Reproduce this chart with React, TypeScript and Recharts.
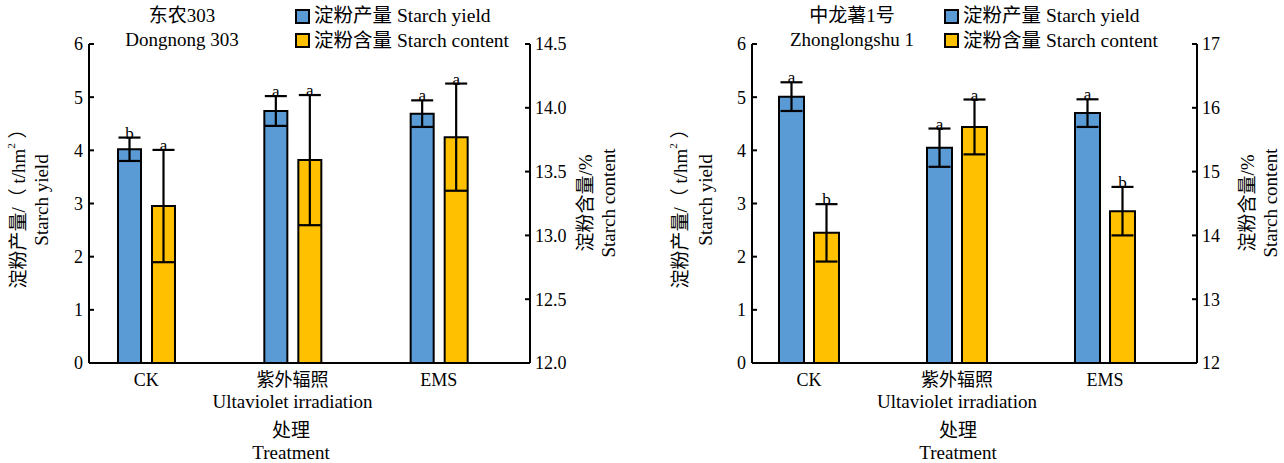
import { BarChart, Bar, XAxis, YAxis, ErrorBar, LabelList, Legend } from 'recharts'

const FONT = "'Liberation Serif', 'Noto Sans CJK SC', serif"

// categories
const categories = ['CK', '紫外辐照', 'EMS']
const categoriesEn = ['', 'Ultaviolet irradiation', '']

const seriesNames = ['淀粉产量 Starch yield', '淀粉含量 Starch content']
const seriesColors = ['#5B9BD5', '#FFC000']

// 东农303 Dongnong 303
const dnYield = [4.02, 4.74, 4.69]
const dnYieldErr = [0.22, 0.28, 0.25]
const dnYieldSig = ['b', 'a', 'a']
const dnContent = [13.23, 13.59, 13.77]
const dnContentErr = [0.44, 0.51, 0.42]
const dnContentSig = ['a', 'a', 'a']

// 中龙薯1号 Zhonglongshu 1
const zlYield = [5.01, 4.05, 4.7]
const zlYieldErr = [0.27, 0.36, 0.26]
const zlYieldSig = ['a', 'a', 'a']
const zlContent = [14.04, 15.7, 14.38]
const zlContentErr = [0.45, 0.43, 0.38]
const zlContentSig = ['b', 'a', 'b']

// tick labels
const yieldTicks = [0, 1, 2, 3, 4, 5, 6]
const dnContentTicks = [12, 12.5, 13, 13.5, 14, 14.5]
const zlContentTicks = [12, 13, 14, 15, 16, 17]

const buildRows = (y: number[], ye: number[], c: number[], ce: number[]) =>
    categories.map((name, i) => ({
        name,
        yield: y[i],
        yieldErr: ye[i],
        content: c[i],
        contentErr: ce[i],
    }))

const CategoryTick = ({ x, y, payload }: any) => {
    const en = categoriesEn[payload.index] || ''
    return (
        <g fontFamily={FONT} fill="#000">
            <text x={x} y={y + 23} textAnchor="middle" fontSize={18}>{payload.value}</text>
            {en && <text x={x} y={y + 45} textAnchor="middle" fontSize={19}>{en}</text>}
        </g>
    )
}

// significance letter sitting on the error bar cap
const sigLabel = (sig: string[], vals: number[], err: number[], base: number) => (props: any) => {
    const vb = props.viewBox || props
    const x = props.x ?? vb.x
    const y = props.y ?? vb.y
    const width = props.width ?? vb.width
    const height = props.height ?? vb.height
    const i = props.index
    const ppu = height / (vals[i] - base)
    const capY = y - err[i] * ppu
    return (
        <text x={x + width / 2} y={capY + 1} textAnchor="middle" fontSize={17} fontFamily={FONT} fill="#000">
            {sig[i]}
        </text>
    )
}

const LegendBox = () => (
    <div style={{ fontFamily: FONT, fontSize: 19.5, lineHeight: '24.5px', color: '#000' }}>
        {seriesNames.map((n, i) => (
            <div key={n} style={{ display: 'flex', alignItems: 'center', whiteSpace: 'nowrap' }}>
                <span style={{ display: 'inline-block', width: 11, height: 11, border: '2px solid #000', background: seriesColors[i], marginRight: 4 }} />
                {n}
            </div>
        ))}
    </div>
)

interface PanelProps {
    title: string
    titleEn: string
    titleX: number
    yieldV: number[]
    yieldErr: number[]
    yieldSig: string[]
    content: number[]
    contentErr: number[]
    contentSig: string[]
    contentTicks: number[]
    contentFmt: (v: number) => string
    leftW: number
    rightW: number
    pad: { left: number; right: number }
    barSize: number
    barGap: number
    legendLeft: number
    leftTitleX: number[]
    rightTitleX: number[]
    xTitleX: number
}

const Panel = (p: PanelProps) => {
    const data = buildRows(p.yieldV, p.yieldErr, p.content, p.contentErr)
    const base = p.contentTicks[0]
    return (
        <div style={{ position: 'relative', width: 642, height: 463 }}>
            <div style={{ position: 'absolute', left: p.titleX - 120, width: 240, top: 4, textAlign: 'center', fontFamily: FONT, fontSize: 19, lineHeight: '24px', color: '#000' }}>
                <div>{p.title}</div>
                <div>{p.titleEn}</div>
            </div>
            <BarChart width={642} height={463} data={data} margin={{ top: 44, right: 0, bottom: 0, left: 0 }} barGap={p.barGap}>
                <XAxis
                    dataKey="name"
                    height={100}
                    interval={0}
                    padding={p.pad}
                    axisLine={{ stroke: '#000', strokeWidth: 2 }}
                    tickLine={false}
                    tickSize={0}
                    tickMargin={0}
                    tick={<CategoryTick />}
                    label={() => (
                        <g fontFamily={FONT} fill="#000">
                            <text x={p.xTitleX} y={437} textAnchor="middle" fontSize={19}>处理</text>
                            <text x={p.xTitleX} y={459} textAnchor="middle" fontSize={19}>Treatment</text>
                        </g>
                    )}
                />
                <YAxis
                    yAxisId="l"
                    width={p.leftW}
                    domain={[0, 6]}
                    ticks={yieldTicks}
                    allowDataOverflow
                    axisLine={{ stroke: '#000', strokeWidth: 2 }}
                    tickLine={{ stroke: '#000', strokeWidth: 2 }}
                    tickSize={-5}
                    tickMargin={11}
                    tick={{ fill: '#000', fontSize: 18, fontFamily: FONT }}
                    label={() => (
                        <g fontFamily={FONT} fill="#000" fontSize={19}>
                            <text x={p.leftTitleX[0]} y={204} transform={`rotate(-90 ${p.leftTitleX[0]} 204)`} textAnchor="middle" dominantBaseline="central">
                                淀粉产量/（ t/hm<tspan dy={-7} fontSize={11}>2</tspan><tspan dy={7}> ）</tspan>
                            </text>
                            <text x={p.leftTitleX[1]} y={200} transform={`rotate(-90 ${p.leftTitleX[1]} 200)`} textAnchor="middle" dominantBaseline="central">
                                Starch yield
                            </text>
                        </g>
                    )}
                />
                <YAxis
                    yAxisId="r"
                    orientation="right"
                    width={p.rightW}
                    domain={[p.contentTicks[0], p.contentTicks[p.contentTicks.length - 1]]}
                    ticks={p.contentTicks}
                    allowDataOverflow
                    tickFormatter={p.contentFmt}
                    axisLine={{ stroke: '#000', strokeWidth: 2 }}
                    tickLine={{ stroke: '#000', strokeWidth: 2 }}
                    tickSize={-5}
                    tickMargin={10}
                    tick={{ fill: '#000', fontSize: 18, fontFamily: FONT }}
                    label={() => (
                        <g fontFamily={FONT} fill="#000" fontSize={19}>
                            <text x={p.rightTitleX[0]} y={203} transform={`rotate(-90 ${p.rightTitleX[0]} 203)`} textAnchor="middle" dominantBaseline="central">
                                淀粉含量/%
                            </text>
                            <text x={p.rightTitleX[1]} y={203} transform={`rotate(-90 ${p.rightTitleX[1]} 203)`} textAnchor="middle" dominantBaseline="central">
                                Starch content
                            </text>
                        </g>
                    )}
                />
                <Legend
                    layout="vertical"
                    align="center"
                    verticalAlign="middle"
                    content={<LegendBox />}
                    wrapperStyle={{ left: p.legendLeft, top: 4, width: 'auto' }}
                />
                <Bar yAxisId="l" dataKey="yield" name={seriesNames[0]} fill={seriesColors[0]} stroke="#000" strokeWidth={2} barSize={p.barSize} isAnimationActive={false}>
                    <ErrorBar dataKey="yieldErr" width={11} stroke="#000" strokeWidth={2} />
                    <LabelList dataKey="yield" content={sigLabel(p.yieldSig, p.yieldV, p.yieldErr, 0)} />
                </Bar>
                <Bar yAxisId="r" dataKey="content" name={seriesNames[1]} fill={seriesColors[1]} stroke="#000" strokeWidth={2} barSize={p.barSize} isAnimationActive={false}>
                    <ErrorBar dataKey="contentErr" width={11} stroke="#000" strokeWidth={2} />
                    <LabelList dataKey="content" content={sigLabel(p.contentSig, p.content, p.contentErr, base)} />
                </Bar>
            </BarChart>
        </div>
    )
}

export default function App() {
    return (
        <div style={{ position: 'absolute', left: 0, top: 0, width: 1284, height: 463, background: '#fff', display: 'flex' }}>
            {/* error bars a bit heavier, as in the print */}
            <style>{'[class*="errorBar"] line, [class*="errorBar"] path, [class*="error-bar"] line { stroke-width: 2.2px !important; stroke: #000 !important; }'}</style>
            <Panel
                title="东农303"
                titleEn="Dongnong 303"
                titleX={182}
                yieldV={dnYield}
                yieldErr={dnYieldErr}
                yieldSig={dnYieldSig}
                content={dnContent}
                contentErr={dnContentErr}
                contentSig={dnContentSig}
                contentTicks={dnContentTicks}
                contentFmt={(v) => v.toFixed(1)}
                leftW={89}
                rightW={112}
                pad={{ left: -16, right: 18 }}
                barSize={23}
                barGap={11}
                legendLeft={295}
                leftTitleX={[18, 41]}
                rightTitleX={[585, 608]}
                xTitleX={291}
            />
            <Panel
                title="中龙薯1号"
                titleEn="Zhonglongshu 1"
                titleX={210}
                yieldV={zlYield}
                yieldErr={zlYieldErr}
                yieldSig={zlYieldSig}
                content={zlContent}
                contentErr={zlContentErr}
                contentSig={zlContentSig}
                contentTicks={zlContentTicks}
                contentFmt={(v) => String(v)}
                leftW={110}
                rightW={87}
                pad={{ left: -17, right: 18 }}
                barSize={25}
                barGap={10}
                legendLeft={302}
                leftTitleX={[38, 63]}
                rightTitleX={[605, 628]}
                xTitleX={316}
            />
        </div>
    )
}
